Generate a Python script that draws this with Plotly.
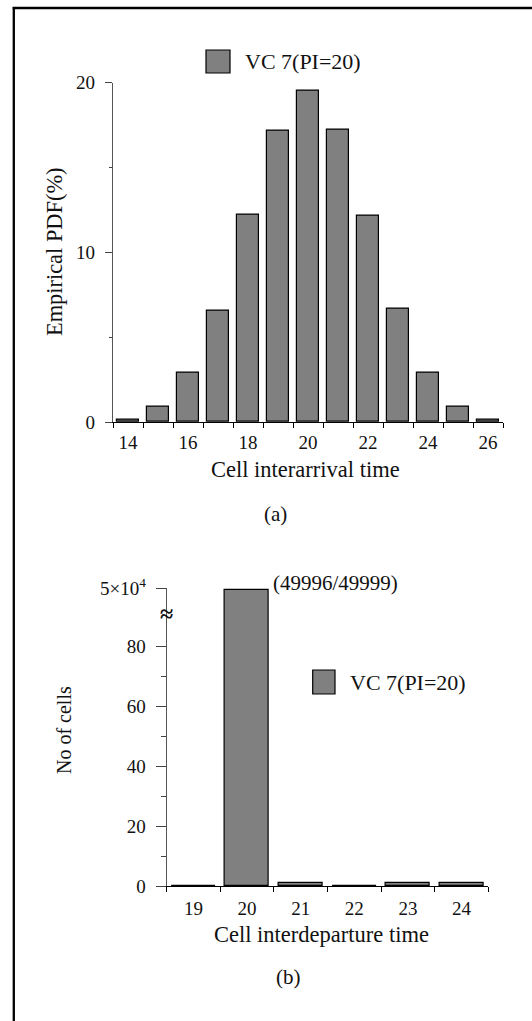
import plotly.graph_objects as go

# ---------------- data ----------------
a_times = [14, 15, 16, 17, 18, 19, 20, 21, 22, 23, 24, 25, 26]
a_pdf = [0.15, 0.9, 2.88, 6.55, 12.2, 17.15, 19.55, 17.25, 12.15, 6.65, 2.88, 0.9, 0.15]
a_xticks = [14, 16, 18, 20, 22, 24, 26]
a_yticks = [0, 10, 20]

b_times = [19, 20, 21, 22, 23, 24]
b_counts = [0, 49996, 1, 0, 1, 1]
b_yticks_low = [0, 20, 40, 60, 80]
b_top_tick = [50000]
b_top_ticktext = ["5×10<sup>4</sup>"]

series_name = "VC 7(PI=20)"
b_note = "(49996/49999)"

# ---------------- layout helpers ----------------
W, H = 532, 1021
def px(x):
    return x / W
def py(y):
    return 1 - y / H

FONT = "Liberation Serif, Times New Roman, serif"
TXT = "#111111"
BAR = "#808080"

fig = go.Figure()

fig.add_trace(go.Bar(x=a_times, y=a_pdf, width=0.72, xaxis="x", yaxis="y",
                     marker=dict(color=BAR, line=dict(color="black", width=1.2)),
                     showlegend=False, name=series_name))
fig.add_trace(go.Bar(x=b_times, y=b_counts, width=0.82, xaxis="x2", yaxis="y2",
                     marker=dict(color=BAR, line=dict(color="black", width=1.2)),
                     showlegend=False, name=series_name))
fig.add_trace(go.Bar(x=b_times, y=b_counts, width=0.82, xaxis="x2", yaxis="y3",
                     marker=dict(color=BAR, line=dict(color="black", width=1.2)),
                     showlegend=False, name=series_name))

tickfont = dict(family=FONT, size=19, color=TXT)

fig.update_layout(
    width=W, height=H, autosize=False,
    margin=dict(l=0, r=0, t=0, b=0, pad=0, autoexpand=False),
    paper_bgcolor="white", plot_bgcolor="white",
    bargap=0,
    showlegend=False,
    xaxis=dict(domain=[px(113), px(503)], range=[13.5, 26.5], anchor="y",
               automargin=False,
               tickmode="array", tickvals=a_xticks, ticks="", ticklabelstandoff=3,
               showline=True, linecolor="black", linewidth=1.2,
               showgrid=False, zeroline=False, tickfont=tickfont,
               minor=dict(tickvals=[v - 0.5 for v in a_times] + [a_times[-1] + 0.5],
                          ticks="outside", ticklen=5, tickcolor="black", tickwidth=1.2,
                          showgrid=False)),
    yaxis=dict(domain=[py(422), py(82.7)], range=[0, 20], anchor="x",
               automargin=False,
               tickmode="array", tickvals=a_yticks, ticks="outside", ticklen=7,
               tickcolor="#444", tickwidth=1.2, ticklabelstandoff=6,
               showline=True, linecolor="#555", linewidth=1.2,
               showgrid=False, zeroline=False, tickfont=tickfont,
               minor=dict(tickvals=[5, 15], ticks="outside", ticklen=3,
                          tickcolor="#444", tickwidth=1.2, showgrid=False)),
    xaxis2=dict(domain=[px(166.7), px(488.3)], range=[18.5, 24.5], anchor="y2",
                automargin=False,
                tickmode="array", tickvals=b_times, ticks="", ticklabelstandoff=5,
                showline=True, linecolor="black", linewidth=1.2,
                showgrid=False, zeroline=False, tickfont=tickfont,
                minor=dict(tickvals=[v - 0.5 for v in b_times] + [b_times[-1] + 0.5],
                           ticks="outside", ticklen=5, tickcolor="black", tickwidth=1.2,
                           showgrid=False)),
    yaxis2=dict(domain=[py(886), py(616)], range=[0, 90], anchor="x2",
                automargin=False,
                tickmode="array", tickvals=b_yticks_low, ticks="outside", ticklen=10,
                tickcolor="#444", tickwidth=1.2, ticklabelstandoff=6,
                showline=True, linecolor="#555", linewidth=1.2,
                showgrid=False, zeroline=False, tickfont=tickfont,
                minor=dict(tickvals=[10, 30, 50, 70], ticks="outside", ticklen=5,
                           tickcolor="#444", tickwidth=1.2, showgrid=False)),
    yaxis3=dict(domain=[py(616), py(588)], range=[49940, 50000], anchor="x2",
                automargin=False,
                tickmode="array", tickvals=b_top_tick, ticktext=b_top_ticktext,
                ticks="outside", ticklen=10, tickcolor="#444", tickwidth=1.2,
                ticklabelstandoff=6,
                showline=True, linecolor="#555", linewidth=1.2,
                showgrid=False, zeroline=False,
                tickfont=dict(family=FONT, size=19, color=TXT)),
)

shapes = []
annotations = []

def text(x, y, s, size, xanchor="center", textangle=0):
    annotations.append(dict(x=px(x), y=py(y), xref="paper", yref="paper",
                            text=s, showarrow=False, xanchor=xanchor, yanchor="middle",
                            textangle=textangle,
                            font=dict(family=FONT, size=size, color=TXT)))

# frame lines
shapes.append(dict(type="line", xref="paper", yref="paper",
                   x0=px(12.7), x1=px(532), y0=py(8), y1=py(8),
                   line=dict(color="black", width=2.7)))
shapes.append(dict(type="line", xref="paper", yref="paper",
                   x0=px(13.8), x1=px(13.8), y0=py(7), y1=py(1021),
                   line=dict(color="black", width=2.3)))

# legend boxes
shapes.append(dict(type="rect", xref="paper", yref="paper",
                   x0=px(206), x1=px(230), y0=py(73), y1=py(50),
                   fillcolor=BAR, line=dict(color="black", width=1.2)))
shapes.append(dict(type="rect", xref="paper", yref="paper",
                   x0=px(312.7), x1=px(335), y0=py(694), y1=py(670),
                   fillcolor=BAR, line=dict(color="black", width=1.2)))
text(243, 62, series_name, 22, xanchor="left")
text(347.7, 682, series_name, 22, xanchor="left")

# axis titles and captions
text(305, 469, "Cell interarrival time", 22.5)
text(275, 514, "(a)", 21)
text(54, 252, "Empirical PDF(%)", 22.4, textangle=-90)

text(321, 934, "Cell interdeparture time", 22.5)
text(288, 977, "(b)", 21)
text(64, 730, "No of cells", 20, textangle=-90)

text(335, 583, b_note, 21)
text(166.5, 614, "<b>≈</b>", 24)

fig.update_layout(shapes=shapes, annotations=annotations)

fig.write_html("out.html")
